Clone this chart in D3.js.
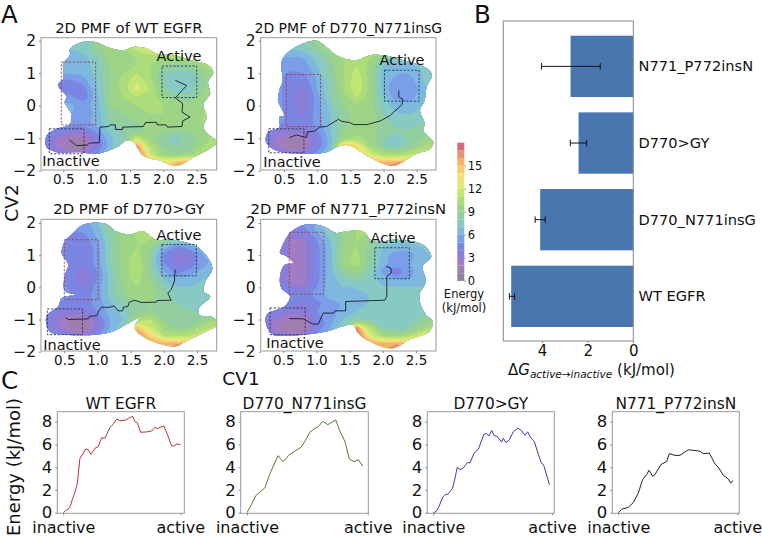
<!DOCTYPE html>
<html>
<head>
<meta charset="utf-8">
<script src="https://cdnjs.cloudflare.com/ajax/libs/d3/7.8.5/d3.min.js"></script>
<style>
body { margin: 0; background: #fff; }
text { font-family: "DejaVu Sans", sans-serif; fill: #111; }
.tick line, .domain { stroke: #888; }
</style>
</head>
<body>
<svg id="fig" width="762" height="537"></svg>
<script>
var cv1Step = 0.2, cv2Step = 0.25;
var pmfWT = [
  [9,7,7,7.5,9,10,10,11,12,13,13,13,13,13],
  [7,7,7,7.5,8.5,10,10,11.5,13,13,13,13,13,13],
  [7,6.5,6.5,6.5,8,9.5,9.5,10,10.5,10,10.5,10.5,11,11],
  [6.5,6.5,6.3,6.3,7.5,9,9.5,10,10,9,8.5,9,10,11],
  [6.5,6.3,6,6.2,7.5,9,10,11,10,8,7.5,7.5,9,10],
  [5,4.8,4.6,5.5,7,9,10.5,12,10.5,8,7,7,8.5,10],
  [4.5,4.4,4.4,4.3,7,9,10.5,12.5,11,8.5,7,7.5,9,10],
  [6,5.5,5.5,4,6.5,9,10,11,10.5,9.5,8.5,8.5,9.5,10],
  [7,7,6.2,5.7,6.5,9,9.5,10,10.5,10,9.5,9.5,10,10],
  [7,7,6.2,5,6.2,8.5,9,9.5,10,10,9.5,9.5,10,10],
  [7,6.3,6,5.7,6.5,8,8.5,9,9.5,9.5,9.5,9.5,10,10],
  [6,4.6,4.2,3.8,5.5,7.5,8,8.5,9,9,9,9,9.5,10],
  [5,2.8,2,1.8,4,6.5,8,12,9.5,8,7.5,8.5,9.5,10.5],
  [5,2.8,0.9,0.9,3.5,6.5,8.5,17,11,8.5,8,8.5,10,10.5],
  [6,4.5,3.5,3.5,5,7,10,18,12,9.5,9,9.5,11,12],
  [7,7,6,6,7,9,12,18,15,13,15,16,15,15],
  [7,7,6,6,7,9,12,18,17,15,16,17,16,15]
];
var pmfInsG = [
  [8,7,7.5,8,9.5,10,10,11,12,12,12,12,12,12],
  [7,6.5,7,7.5,8.5,9.5,10,11,12,12,12,12,12,12],
  [6.5,6,6,6,7.5,9,10,10.5,10,8.5,8,8.5,9.5,10],
  [6,5.5,5.5,5.5,7,8.5,10,11,9.5,7,6.5,6.5,7.5,8.5],
  [6,5.5,4.7,5,6.5,8.5,10,11.5,9.5,6.5,6,6,7,8],
  [6,5.5,4.3,4.2,6,8,10,12,9.5,6.5,5.5,5.5,7,8],
  [6,5.5,4.2,3.7,6,8,10,12,9.5,6.5,5,5,6.5,7.5],
  [6,5.5,4.2,3,5.5,8,9.5,11,9.5,7,5.5,5.5,7,7.5],
  [6,5.5,4.2,3.5,5.5,7.5,9,10,9.5,7.5,6.5,6.5,7,7.5],
  [6,5.5,4.3,3.8,5.5,7,8.5,9.5,9.5,8,7,7,7.5,7.5],
  [6,5.5,4.7,4.2,5.5,7,8.5,9.5,9.5,8.5,7.5,7.5,8,8],
  [5,4,3.5,3.5,5,7,9,9.5,9.5,8.5,8,8,8.5,9],
  [4.5,2.5,1.8,2,4,6.5,9.5,10.5,9.5,8,7.5,8,9,10],
  [4.5,2.5,0.8,1.8,4,6.5,17,14,10,8,7.5,8.5,10,11],
  [6,5,4,4,5.5,8,18,15,12,10.5,10,11,12,13],
  [7,7,6,6,7.5,10,18,18,16,15,16,16,15,15],
  [7,7,6,6,7.5,10,18,18,17,17,18,17,16,15]
];
var pmfGY = [
  [7,6,5.5,5.5,7,9,10,11,11,11,11,11,11,11],
  [6.5,5.5,5,5,6.5,8.5,9.5,10.5,10.5,11,11,11,11,11],
  [6,5.5,4.7,4.5,6,8,9.5,10,10,9,8.5,9,10,10],
  [6,5.5,4.4,4,5.5,8,9.5,10,9,6.5,4.7,5.5,7,8],
  [6,5.5,4.3,4,5.5,8,9.5,10.5,8.5,4.8,3.5,3.8,6,7],
  [6,5.5,4.4,4,5.5,8,9.5,11,8.5,5,3.7,4,5.5,6.5],
  [6,5.5,4.3,3.4,5,7.5,9.5,11,8.5,6,4.5,5.5,6.5,7],
  [6,5.5,4.3,2.8,5,7.5,9.5,10.5,9,7,6,6.5,7,7.5],
  [6,5.5,4.6,4,5.5,7.5,9,10,9.5,8,7,7,7.5,7.5],
  [6,5.5,5,4.4,5.5,7.5,9,9.5,9.5,8.5,7.5,7.5,7.5,7.5],
  [6,5,4.5,4.5,5.5,7,8,8.5,9,8.5,8,7.5,7.5,7.5],
  [5,4,3.5,3.8,5,6.5,7.5,8.5,9,8.5,8,8,8,8.5],
  [4.5,3,1.8,1.5,3.8,6,7,10.5,11,9,8,8,9,10],
  [4.5,3,1.2,0.8,3.2,6,8,15,12,9.5,8.5,9,10.5,11.5],
  [6,5,4,3.5,5,7,9,17,14,11,10.5,11,12,13],
  [7,7,6,6,7,8,10,18,16,15,16,15,15,15],
  [7,7,6,6,7,8,10,18,17,16,17,16,15,15]
];
var pmfInsN = [
  [7,6,5,5,6.5,8,9,10,10,10,10,10,10,10],
  [6,5,4.5,4.5,6,7.5,9,10,10,10,10,10,10,10],
  [6,5,3,2.8,5,7,9,10,9,8,7.5,7.5,8,8],
  [5.5,4.5,2.8,2.5,4.5,6.5,9,10,8.5,7,6.5,6.5,7,7.5],
  [5,4,2.8,2.5,4.5,6.5,9.5,10.5,8.5,6.5,5,5.5,6.5,7.5],
  [5,4,3,2.8,4.5,6.5,9.5,10.5,8.5,6.5,5.5,6,6.5,7],
  [5,4,2.8,2.3,4.5,6.5,8.5,9.5,8,5.5,3.5,5.5,6.5,7],
  [5,4,2.8,2.5,4.5,6.5,7.5,8.5,7.5,6.5,6,6,6.5,7],
  [6,5,4,3,5,6.5,7,7,7,7,7,7,7,7],
  [6.5,6,5,4.5,5.5,6.5,6.5,6.5,7,7,7,7,7,7],
  [6,5.5,4.5,3.8,4.5,5.5,6,6.5,7,7,7,7,7,7.5],
  [5,4.5,3.5,3.5,5,5.5,6.5,7,7.5,7.5,7.5,7.5,7.5,8],
  [4.5,2.5,2,2,4,5.5,7,8.5,8,7,7,7.5,8.5,9.5],
  [4.5,2,1,1.2,4,6,8,17,11,8,7,8,9.5,11],
  [6,4,3,3,5,7,9,18,12.5,10,9.5,10.5,12.5,13.5],
  [7,6,5.5,5.5,7,8,10,18,16,15,16,15,15,15],
  [7,6,5.5,5.5,7,8,10,18,17,16,17,16,15,15]
];
// edge of the sampled region, [cv1, cv2]
var edgeWT = [[.6,1.74],[.8,1.97],[1,1.95],[1.15,1.81],[1.4,1.71],[1.55,1.81],[1.75,1.76],[1.9,1.6],[2.15,1.55],[2.5,1.35],[2.67,1.25],[2.75,1.04],[2.67,.73],[2.7,.37],[2.6,.06],[2.65,-.35],[2.6,-.66],[2.67,-.87],[2.8,-1.12],[2.65,-1.38],[2.45,-1.59],[2.2,-1.85],[1.95,-1.69],[1.7,-1.54],[1.55,-1.12],[1.45,-1.07],[1.3,-1.28],[1,-1.48],[.75,-1.43],[.4,-1.43],[.25,-1.28],[.25,-.92],[.4,-.71],[.6,-.56],[.62,-.25],[.52,.11],[.55,.27],[.42,.63],[.5,.84],[.5,1.3],[.6,1.56]];
var edgeInsG = [[.48,1.45],[.64,1.76],[.99,2],[1.14,1.8],[1.34,1.5],[1.6,1.4],[1.8,1.55],[2,1.55],[2.3,1.4],[2.65,1.15],[2.73,.94],[2.65,.58],[2.62,.16],[2.55,-.15],[2.62,-.55],[2.6,-.76],[2.75,-1.12],[2.7,-1.33],[2.5,-1.48],[2.15,-1.85],[1.9,-1.7],[1.7,-1.48],[1.5,-1.23],[1.35,-1.23],[1.14,-1.43],[.84,-1.48],[.38,-1.38],[.23,-1.12],[.26,-.81],[.43,-.66],[.43,-.35],[.5,-.3],[.41,.16],[.43,.47],[.48,.78],[.46,1.2]];
var edgeGY = [[.51,1.43],[.61,1.64],[.79,1.95],[1.13,1.97],[1.28,1.74],[1.48,1.64],[1.68,1.74],[1.88,1.48],[2.13,1.48],[2.53,1.22],[2.73,.6],[2.63,.19],[2.6,-.12],[2.7,-.28],[2.53,-.64],[2.53,-.85],[2.76,-.95],[2.78,-1.21],[2.63,-1.37],[2.38,-1.63],[2.18,-1.83],[1.98,-1.78],[1.73,-1.58],[1.56,-1.26],[1.63,-.95],[1.48,-1.1],[1.23,-1.37],[.98,-1.47],[.53,-1.47],[.28,-1.37],[.23,-.9],[.41,-.59],[.46,-.33],[.68,-.23],[.51,-.12],[.51,.39],[.56,.7],[.46,1.07]];
var edgeInsN = [[.47,1.22],[.6,1.69],[.83,1.95],[1.1,1.9],[1.3,1.69],[1.45,1.74],[1.7,1.74],[1.85,1.43],[2.2,1.48],[2.6,1.33],[2.73,.96],[2.6,.65],[2.65,.19],[2.55,-.23],[2.58,-.59],[2.65,-.85],[2.75,-1.06],[2.7,-1.37],[2.4,-1.63],[2.15,-1.89],[1.8,-1.68],[1.63,-1.42],[1.55,-1.16],[1.4,-1.21],[1.15,-1.37],[.8,-1.47],[.35,-1.47],[.25,-1.21],[.25,-.85],[.52,-.59],[.6,-.28],[.47,-.02],[.45,.34],[.52,.7],[.65,.76],[.55,.96],[.45,1.07]];
// lowest-energy path
var pathWT = [[.59,-1.05],[.7,-1.23],[.86,-1.21],[.89,-1.15],[1.04,-1.14],[1.05,-.66],[1.18,-.64],[1.2,-.59],[1.28,-.59],[1.28,-.73],[1.39,-.73],[1.39,-.66],[1.7,-.64],[1.73,-.52],[1.9,-.51],[1.91,-.59],[2.04,-.59],[2.06,-.66],[2.28,-.64],[2.29,-.47],[2.4,-.35],[2.28,-.2],[2.29,.06],[2.18,.24],[2.28,.47],[2.35,.62],[2.18,.78]];
var pathInsG = [[.58,-.98],[.69,-.9],[.81,-.97],[.84,-.97],[.85,-.81],[.96,-.78],[1.04,-.66],[1.14,-.64],[1.32,-.42],[1.37,-.48],[1.49,-.52],[1.55,-.58],[1.75,-.58],[1.95,-.47],[2.1,-.3],[2.28,.04],[2.29,.2],[2.23,.27],[2.23,.47]];
var pathGY = [[.52,-.95],[.56,-1],[.86,-.98],[.88,-.9],[.99,-.88],[1.02,-.73],[1.06,-.62],[1.19,-.62],[1.25,-.57],[1.31,-.73],[1.38,-.73],[1.39,-.62],[1.46,-.59],[1.48,-.46],[1.56,-.4],[1.66,-.47],[1.89,-.46],[1.9,-.41],[2.11,-.4],[2.06,-.18],[2.11,-.07],[2.16,.19],[2.17,.55]];
var pathInsN = [[.59,-.97],[.8,-.98],[.94,-1.14],[1.03,-1.14],[1.1,-.8],[1.26,-.8],[1.28,-.73],[1.44,-.73],[1.44,-.44],[2.03,-.4],[2.06,-.28],[2.06,.34],[2.13,.45],[2.12,.6],[2.05,.65]];
// boxes: [cv1 left, cv1 right, cv2 top, cv2 bottom]
var boxesWT = [[1.98,2.5,1.22,.25],[.47,.985,1.34,-.59],[.29,.81,-.71,-1.48]];
var boxesInsG = [[2.015,2.535,1.09,.14],[.535,1.05,.96,-.64],[.27,.8,-.71,-1.45]];
var boxesGY = [[1.97,2.49,1.33,.36],[.5,1.01,1.48,-.38],[.245,.775,-.67,-1.47]];
var boxesInsN = [[1.88,2.4,1.23,.27],[.59,1.11,1.71,-.21],[.3,.83,-.64,-1.47]];
var boxColors = ["#1d3f4a", "#a23a56", "#33334a"];

var cvXTicks = [0.5, 1.0, 1.5, 2.0, 2.5];
var cvYTicks = [-2, -1, 0, 1, 2];
var energyLevels = d3.range(0, 18);
var energyTicks = [0, 3, 6, 9, 12, 15];
var stopValues = [0, 1, 2, 3, 4, 5, 6, 7, 8, 9, 10, 11, 12, 13, 14, 15, 16, 17];
var stopColors = ["#8f8291", "#957f9e", "#a67cbc", "#9a7ccf", "#7c7ce0", "#7a90e6", "#7aace8", "#82c4d6", "#8ccdb0", "#98cf8e", "#a4d880", "#b5e276", "#cfe974", "#ecea7a", "#f4d974", "#f4c06c", "#eda570", "#de7f76"];

// ---- panel B ----
var barNames = ["N771_P772insN", "D770>GY", "D770_N771insG", "WT EGFR"];
var barValues = [2.75, 2.4, 4.08, 5.35];
var barErrLow = [1.45, 2.04, 3.86, 5.2];
var barErrHigh = [4.02, 2.76, 4.3, 5.43];
var barTicks = [0, 2, 4];

// ---- panel C: progress along path (0 inactive, 100 active) and energy ----
var curveWTx = [0,2,4.3,6.3,8,9.7,12,14.2,16.2,19.1,21.4,23.6,27.1,29.9,32.8,35.6,39.9,42.7,45.6,48.4,52.7,55.6,59.3,61.3,63.2,66.1,71.2,75.5,78.3,80.3,82.6,86,89.7,92.6,94.6,96.9,100];
var curveWTy = [0,.2,.32,.67,1.26,1.7,2.58,4.78,5.07,5.6,5.51,5.13,5.66,5.81,6.6,6.54,7.5,7.77,8.24,8.09,8.12,8.3,8.47,8,7.92,7.07,7.1,7.18,7.5,7.39,7.5,7.62,6.69,5.87,5.87,6.04,5.98];
var curveInsGx = [0,3,7.5,14.9,19.1,25.7,29.8,34.3,39.8,44.8,48.9,52.2,56.4,59.1,62.7,66.9,73.5,77.1,81.2,84.8,88.7,92.3,95.9];
var curveInsGy = [0,.59,1.53,2.2,3.46,5.01,4.49,5.01,5.43,5.75,6.45,7.1,7.42,7.57,8.03,7.74,8.15,7.13,6.25,4.72,4.49,4.66,4.08];
var curveGYx = [0,2.2,4.5,7.9,9.8,12.6,16.3,18.3,20.2,22.5,25.3,28.7,30.9,34.6,37.9,42.7,44.9,46.9,49.2,51.4,53.4,57.6,59,61.2,64,67.4,71.3,74.4,77.2,79.5,82,85.1,88.5,90.7,93.3,97.8];
var curveGYy = [0,.09,.47,1.36,1.57,1.66,2.16,3.05,4,3.79,3.94,4.39,4.39,5.27,5.57,6.9,6.96,6.75,7.23,6.75,6.75,6.21,6.55,6.16,6.4,7.11,7.44,7.2,6.81,7.11,6.61,6.25,5.13,4.47,4.09,2.46];
var curveInsNx = [0,2.8,8.4,12.6,16.8,20.4,23.8,25.8,28.9,30.8,35.9,40.6,42.9,47.6,51.8,58.8,68.6,71.4,76.5,81.2,84,88.2,92.4,94.4,96.6];
var curveInsNy = [0,.3,.47,.89,1.72,2.9,3.35,3.73,3.2,3.35,4.24,4.5,5.19,5.04,5.04,5.53,5.41,5.19,5.24,4.3,4,3.3,2.96,2.61,2.84];
var curveTicks = [0, 2, 4, 6, 8];
var ends = [0, 100];
var endNames = ["inactive", "active"];

var svg = d3.select("#fig");
var energyColor = d3.scaleLinear().domain(stopValues).range(stopColors);

// Draw one PMF panel
function pmfPanel(cfg) {
    var xScale = d3.scaleLinear()
        .domain([0.5, 2.5])
        .range([cfg.x05, cfg.x25]);
    var yScale = d3.scaleLinear()
        .domain([-2, 2])
        .range([cfg.ym2, cfg.y2]);
    var g = svg.append("g");

    // grid -> contour bands
    var nRows = cfg.grid.length, nCols = cfg.grid[0].length;
    var flat = d3.merge(cfg.grid);
    var contours = d3.contours().size([nCols, nRows]).smooth(true).thresholds(energyLevels)(flat);
    var ringLine = d3.line()
        .x(d => xScale(0.2 + (d[0] - 0.5) * cv1Step))
        .y(d => yScale(2 - (d[1] - 0.5) * cv2Step))
        .curve(d3.curveBasisClosed);

    var clip = g.append("clipPath").attr("id", cfg.id);
    clip.append("path")
        .attr("d", d3.line().x(d => xScale(d[0])).y(d => yScale(d[1])).curve(d3.curveCatmullRomClosed.alpha(0.5))(cfg.edge));

    g.append("g")
        .attr("clip-path", `url(#${cfg.id})`)
        .selectAll("path")
        .data(contours)
        .enter()
        .append("path")
        .attr("fill-rule", "evenodd")
        .attr("fill", d => energyColor(d.value + 0.5))
        .attr("d", d => d.coordinates.map(poly => poly.map(ring => ringLine(ring)).join("")).join(""));

    // state boxes
    g.selectAll("rect.box")
        .data(cfg.boxes)
        .enter()
        .append("rect")
        .attr("class", "box")
        .attr("x", d => xScale(d[0]))
        .attr("y", d => yScale(d[2]))
        .attr("width", d => xScale(d[1]) - xScale(d[0]))
        .attr("height", d => yScale(d[3]) - yScale(d[2]))
        .attr("fill", "none")
        .attr("stroke", (d, i) => boxColors[i])
        .attr("stroke-width", 0.9)
        .attr("stroke-dasharray", "2.2,1.6");

    // path
    g.append("path")
        .attr("d", d3.line().x(d => xScale(d[0])).y(d => yScale(d[1]))(cfg.path))
        .attr("fill", "none")
        .attr("stroke", "#1b1b2a")
        .attr("stroke-width", 0.9);

    // frame and axes
    g.append("rect")
        .attr("x", cfg.left).attr("y", cfg.top)
        .attr("width", cfg.right - cfg.left)
        .attr("height", cfg.bottom - cfg.top)
        .attr("fill", "none")
        .attr("stroke", "#999")
        .attr("stroke-width", 1);

    var bottomAxis = d3.axisBottom(xScale).tickValues(cvXTicks).tickFormat(d3.format(".1f")).tickSize(2).tickPadding(2);
    var leftAxis = d3.axisLeft(yScale).tickValues(cvYTicks).tickFormat(d => String(d).replace("-", "\u2212")).tickSize(2).tickPadding(3);
    var xAxis = g.append("g").attr("transform", `translate(0, ${cfg.bottom})`).call(bottomAxis);
    var yAxis = g.append("g").attr("transform", `translate(${cfg.left}, 0)`).call(leftAxis);
    xAxis.select(".domain").remove();
    yAxis.select(".domain").remove();
    xAxis.selectAll("text").attr("font-size", 13.5);
    yAxis.selectAll("text").attr("font-size", 15.5);

    g.append("text")
        .attr("x", (cfg.left + cfg.right) / 2)
        .attr("y", cfg.top - 5)
        .attr("text-anchor", "middle")
        .attr("font-size", cfg.titleSize)
        .text(cfg.title);
    g.append("text")
        .attr("x", cfg.activeX).attr("y", cfg.activeY)
        .attr("text-anchor", "middle").attr("font-size", 14.5)
        .text("Active");
    g.append("text")
        .attr("x", cfg.inactiveX).attr("y", cfg.inactiveY)
        .attr("text-anchor", "middle").attr("font-size", 14.5)
        .text("Inactive");
}

pmfPanel({ id: "c1", grid: pmfWT, edge: edgeWT, path: pathWT, boxes: boxesWT, title: "2D PMF of WT EGFR", titleSize: 14.8,
    left: 41, right: 216.7, top: 37.7, bottom: 170, x05: 63.3, x25: 196.7, y2: 40.7, ym2: 170.7,
    activeX: 179, activeY: 61, inactiveX: 71, inactiveY: 166 });
pmfPanel({ id: "c2", grid: pmfInsG, edge: edgeInsG, path: pathInsG, boxes: boxesInsG, title: "2D PMF of D770_N771insG", titleSize: 14,
    left: 260.7, right: 436, top: 37.7, bottom: 170, x05: 284, x25: 416.7, y2: 40.7, ym2: 170.7,
    activeX: 402, activeY: 65, inactiveX: 292, inactiveY: 167 });
pmfPanel({ id: "c3", grid: pmfGY, edge: edgeGY, path: pathGY, boxes: boxesGY, title: "2D PMF of D770>GY", titleSize: 14.8,
    left: 41, right: 216.7, top: 219.3, bottom: 351, x05: 64.3, x25: 197, y2: 223, ym2: 351.7,
    activeX: 179, activeY: 240, inactiveX: 72, inactiveY: 350 });
pmfPanel({ id: "c4", grid: pmfInsN, edge: edgeInsN, path: pathInsN, boxes: boxesInsN, title: "2D PMF of N771_P772insN", titleSize: 14.8,
    left: 260.7, right: 436, top: 219.3, bottom: 351, x05: 283.3, x25: 416, y2: 223, ym2: 351.7,
    activeX: 393, activeY: 243, inactiveX: 295, inactiveY: 348 });

// Colour bar
var barScale = d3.scaleLinear().domain([0, 15]).range([280.7, 165.5]);
svg.append("g").selectAll("rect")
    .data(energyLevels)
    .enter()
    .append("rect")
    .attr("x", 457.3)
    .attr("width", 7)
    .attr("y", d => barScale(d + 0.97))
    .attr("height", barScale(0) - barScale(1))
    .attr("fill", d => energyColor(d + 0.5));
var cbAxis = svg.append("g")
    .attr("transform", "translate(464.3, 0)")
    .call(d3.axisRight(barScale).tickValues(energyTicks).tickSize(1.5).tickPadding(2));
cbAxis.select(".domain").remove();
cbAxis.selectAll("text").attr("font-size", 11.5);
svg.append("text").attr("x", 464).attr("y", 298).attr("text-anchor", "middle").attr("font-size", 11.5).text("Energy");
svg.append("text").attr("x", 464).attr("y", 312).attr("text-anchor", "middle").attr("font-size", 11.5).text("(kJ/mol)");

// Bars
var barX = d3.scaleLinear().domain([0, 4]).range([633.3, 542]);
var barY = d3.scaleBand().domain(barNames).range([35.7, 327]).paddingInner(0.2);
var barG = svg.append("g");
barG.selectAll("rect.bar")
    .data(barNames)
    .enter()
    .append("rect")
    .attr("class", "bar")
    .attr("x", (d, i) => barX(barValues[i]))
    .attr("y", d => barY(d))
    .attr("width", (d, i) => barX(0) - barX(barValues[i]))
    .attr("height", barY.bandwidth())
    .attr("fill", "#4a76b0");
barG.selectAll("g.err")
    .data(barNames)
    .enter()
    .append("g")
    .attr("class", "err")
    .each(function(d, i) {
        var cy = barY(d) + barY.bandwidth() / 2;
        var e = d3.select(this);
        e.append("line").attr("x1", barX(barErrLow[i])).attr("x2", barX(barErrHigh[i])).attr("y1", cy).attr("y2", cy);
        e.append("line").attr("x1", barX(barErrLow[i])).attr("x2", barX(barErrLow[i])).attr("y1", cy - 3.3).attr("y2", cy + 3.3);
        e.append("line").attr("x1", barX(barErrHigh[i])).attr("x2", barX(barErrHigh[i])).attr("y1", cy - 3.3).attr("y2", cy + 3.3);
    })
    .selectAll("line")
    .attr("stroke", "#111")
    .attr("stroke-width", 1);
barG.append("rect")
    .attr("x", 503.3).attr("y", 21).attr("width", 130).attr("height", 320)
    .attr("fill", "none").attr("stroke", "#888").attr("stroke-width", 1);
var barAxis = barG.append("g")
    .attr("transform", "translate(0, 341)")
    .call(d3.axisBottom(barX).tickValues(barTicks).tickFormat(d3.format("d")).tickSize(2).tickPadding(2));
barAxis.select(".domain").remove();
barAxis.selectAll("text").attr("font-size", 15);
barG.selectAll("text.name")
    .data(barNames)
    .enter()
    .append("text")
    .attr("class", "name")
    .attr("x", 638.5)
    .attr("y", d => barY(d) + barY.bandwidth() / 2 + 5)
    .attr("font-size", 14.6)
    .text(d => d);
var dg = barG.append("text").attr("x", 508).attr("y", 375).attr("font-size", 15);
dg.append("tspan").text("\u0394");
dg.append("tspan").attr("font-style", "italic").text("G");
dg.append("tspan").attr("font-style", "italic").attr("font-size", 10.5).attr("dy", 3).text("active\u2192inactive");
dg.append("tspan").attr("dy", -3).attr("dx", 5).text("(kJ/mol)");

// Energy curve panels
function curvePanel(cfg) {
    var xLinearScale = d3.scaleLinear().domain(ends).range([cfg.x0, cfg.x1]);
    var yLinearScale = d3.scaleLinear().domain([0, 8]).range([512.7, 421.7]);
    var g = svg.append("g");
    var line = d3.line().x(d => xLinearScale(d[0])).y(d => yLinearScale(d[1]));
    g.append("path")
        .attr("d", line(d3.zip(cfg.xs, cfg.ys)))
        .attr("fill", "none")
        .attr("stroke", cfg.color)
        .attr("stroke-width", 1);
    g.append("rect")
        .attr("x", cfg.left).attr("y", 411.7)
        .attr("width", cfg.right - cfg.left).attr("height", 101.6)
        .attr("fill", "none").attr("stroke", "#999").attr("stroke-width", 1);
    var leftAxis = d3.axisLeft(yLinearScale).tickValues(curveTicks).tickSize(2).tickPadding(3);
    var bottomAxis = d3.axisBottom(xLinearScale).tickValues(ends).tickFormat((d, i) => endNames[i]).tickSize(2).tickPadding(6.5);
    var yAxis = g.append("g").attr("transform", `translate(${cfg.left}, 0)`).call(leftAxis);
    var xAxis = g.append("g").attr("transform", "translate(0, 513.3)").call(bottomAxis);
    yAxis.select(".domain").remove();
    xAxis.select(".domain").remove();
    yAxis.selectAll("text").attr("font-size", 16.5);
    xAxis.selectAll("text").attr("font-size", 16);
    g.append("text")
        .attr("x", (cfg.left + cfg.right) / 2).attr("y", 408.5)
        .attr("text-anchor", "middle").attr("font-size", 15.4)
        .text(cfg.title);
}

curvePanel({ title: "WT EGFR", xs: curveWTx, ys: curveWTy, color: "#b5373d", left: 57.3, right: 184.3, x0: 63.3, x1: 180.3 });
curvePanel({ title: "D770_N771insG", xs: curveInsGx, ys: curveInsGy, color: "#4d7d33", left: 240.7, right: 368.3, x0: 247, x1: 367.7 });
curvePanel({ title: "D770>GY", xs: curveGYx, ys: curveGYy, color: "#3b3ab2", left: 427.3, right: 554.3, x0: 433.3, x1: 552 });
curvePanel({ title: "N771_P772insN", xs: curveInsNx, ys: curveInsNy, color: "#222", left: 612.3, right: 739.3, x0: 618.3, x1: 737.3 });

// Panel letters and shared labels
svg.append("text").attr("x", 1).attr("y", 23).attr("font-size", 24.5).text("A");
svg.append("text").attr("x", 474).attr("y", 23).attr("font-size", 24.5).text("B");
svg.append("text").attr("x", 1).attr("y", 389).attr("font-size", 24.5).text("C");
svg.append("text").attr("x", 241).attr("y", 385).attr("text-anchor", "middle").attr("font-size", 18.5).text("CV1");
svg.append("text").attr("transform", "translate(18, 203) rotate(-90)").attr("text-anchor", "middle").attr("font-size", 18.5).text("CV2");
svg.append("text").attr("transform", "translate(20, 467) rotate(-90)").attr("text-anchor", "middle").attr("font-size", 18).text("Energy (kJ/mol)");
</script>
</body>
</html>
